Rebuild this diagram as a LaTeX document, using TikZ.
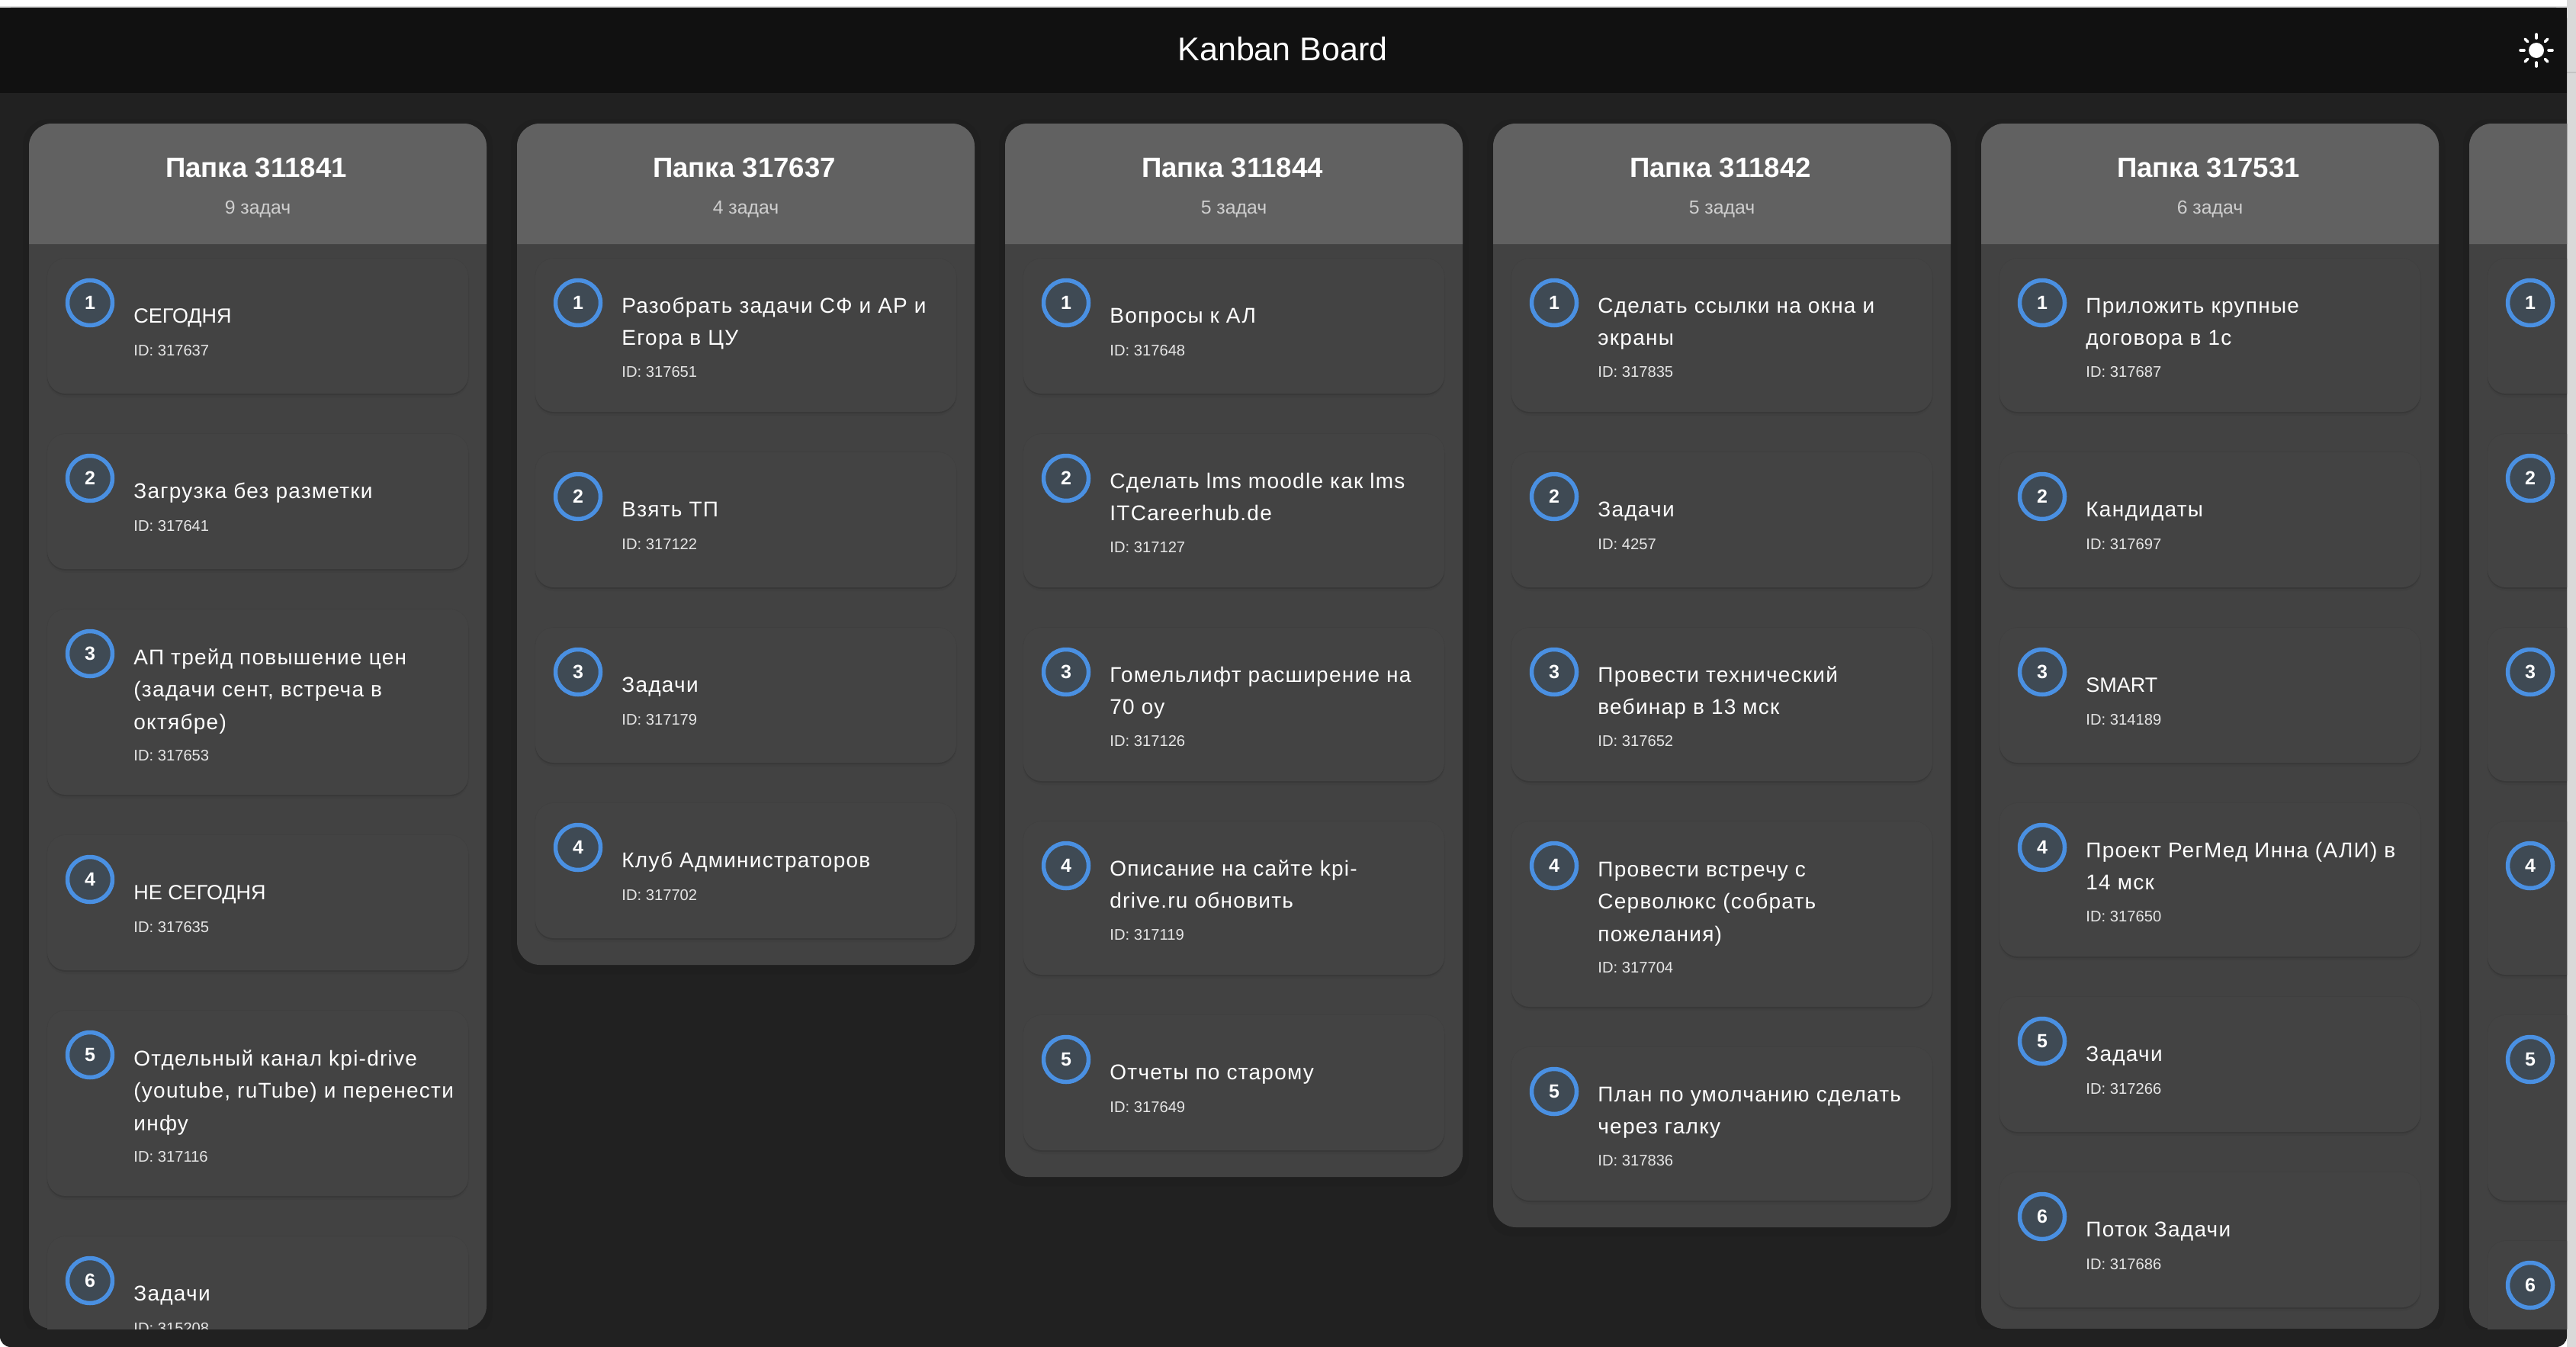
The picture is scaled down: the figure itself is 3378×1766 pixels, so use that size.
\documentclass[tikz,border=0pt]{standalone}
\usepackage{fontspec}
\setmainfont{Liberation Sans}
\definecolor{barbg}{HTML}{111111}
\definecolor{pagebg}{HTML}{212121}
\definecolor{colbody}{HTML}{424242}
\definecolor{colhead}{HTML}{616161}
\definecolor{cardbg}{HTML}{434343}
\definecolor{numfill}{HTML}{3F4A54}
\definecolor{numring}{HTML}{4A90E2}
\definecolor{subtxt}{HTML}{CFCFCF}
\definecolor{idtxt}{HTML}{E6E6E6}
\definecolor{strip}{HTML}{D9D9D9}
\definecolor{stripline}{HTML}{C4C4C4}
\newcommand{\plaincaps}[1]{{\fontsize{13.5}{21.25}\selectfont\addfontfeature{LetterSpace=0}#1}}
\tikzset{
  apptitle/.style={inner sep=0pt,anchor=base,text=white,font=\fontsize{21.5}{26}\selectfont},
  coltitle/.style={inner sep=0pt,anchor=base,text=white,font=\fontsize{18.3}{22}\selectfont\bfseries},
  colsub/.style={inner sep=0pt,anchor=base,text=subtxt,font=\fontsize{12.4}{16}\selectfont},
  tasktext/.style={inner sep=0pt,anchor=north west,align=left,text=white,font=\fontsize{14}{21.25}\selectfont\addfontfeature{LetterSpace=4.5}},
  taskid/.style={inner sep=0pt,anchor=base west,text=idtxt,font=\fontsize{10.1}{13}\selectfont},
  numcirc/.style={circle,draw=numring,fill=numfill,line width=2.75pt,minimum size=29.5pt,inner sep=0pt,text=white,font=\fontsize{12.5}{14}\selectfont\bfseries},
  sunray/.style={draw=white,line width=1.8pt,line cap=round},
}
% #1 name, #2 column x, #3 card top, #4 number, #5 height
\newcommand{\taskshell}[5]{%
  \fill[black,opacity=.03,rounded corners=13pt] (#2+23,#3-1) rectangle (#2+577,#3+#5+5);
  \fill[black,opacity=.10,rounded corners=12pt] (#2+24,#3+1) rectangle (#2+576,#3+#5+2);
  \fill[cardbg,rounded corners=12pt] (#2+24,#3) rectangle (#2+576,#3+#5);
  \node[numcirc] (n#1) at (#2+80,#3+58) {#4};
}
% #1 name, #2 column x, #3 card top, #4 number, #5 line count, #6 text, #7 id
\newcommand{\taskcard}[7]{%
  \ifcase#5\or\def\cardH{177}\def\cardB{84.5}\def\cardI{127}%
  \or\def\cardH{201}\def\cardB{71}\def\cardI{155}%
  \or\def\cardH{243}\def\cardB{72}\def\cardI{198}\fi
  \taskshell{#1}{#2}{#3}{#4}{\cardH}
  \node[tasktext] (t#1) at (#2+137,#3+\cardB-29.75) {\strut #6};
  \node[taskid] (i#1) at (#2+137,#3+\cardI) {ID: #7};
}
% #1 name, #2 x, #3 bottom, #4 title, #5 subtitle
\newcommand{\column}[5]{%
  \fill[black,opacity=.05,rounded corners=17pt] (#2-8,156) rectangle (#2+608,#3+12);
  \fill[colbody,rounded corners=15pt] (#2,162) rectangle (#2+600,#3);
  \fill[colhead] (#2,320) [rounded corners=15pt] -- (#2,162) -- (#2+600,162) [sharp corners] -- (#2+600,320) -- cycle;
  \node[coltitle] (h#1) at (#2+298,232) {#4};
  \node[colsub] (s#1) at (#2+300,280) {#5};
}
\begin{document}
\begin{tikzpicture}[x=0.5pt,y=-0.5pt]
\useasboundingbox (0,0) rectangle (3378,1766);
\fill[white] (0,0) rectangle (3378,1766);
\fill[strip] (3366,0) rectangle (3378,1766);
\fill[stripline] (3366,94) rectangle (3378,96);
\fill[black!12] (0,8) rectangle (3366,10);
\fill[pagebg,rounded corners=7pt] (0,10) rectangle (3366,1766);
\fill[barbg] (0,10) rectangle (3366,122);
\node[apptitle] (apptitle) at (1682,80) {Kanban Board};
% sun
\fill[white] (3326,66) circle (10);
\foreach \a in {0,45,...,315}{
  \draw[sunray] (3326,66) ++(\a:16) -- ++(\a:5);
}
\begin{scope}
\clip (0,0) rectangle (3366,1742);
\column{a}{38}{1742}{Папка 311841}{9 задач}
\column{b}{678}{1265}{Папка 317637}{4 задач}
\column{c}{1318}{1543}{Папка 311844}{5 задач}
\column{d}{1958}{1609}{Папка 311842}{5 задач}
\column{e}{2598}{1742}{Папка 317531}{6 задач}
\column{f}{3238}{1742}{}{}
% column 1
\taskcard{a1}{38}{339}{1}{1}{\plaincaps{СЕГОДНЯ}}{317637}
\taskcard{a2}{38}{569}{2}{1}{Загрузка без разметки}{317641}
\taskcard{a3}{38}{799}{3}{3}{АП трейд повышение цен\\(задачи сент, встреча в\\октябре)}{317653}
\taskcard{a4}{38}{1095}{4}{1}{\plaincaps{НЕ СЕГОДНЯ}}{317635}
\taskcard{a5}{38}{1325}{5}{3}{Отдельный канал kpi-drive\\(youtube, ruTube) и перенести\\инфу}{317116}
\taskcard{a6}{38}{1621}{6}{1}{Задачи}{315208}
% column 2
\taskcard{b1}{678}{339}{1}{2}{Разобрать задачи СФ и АР и\\Егора в ЦУ}{317651}
\taskcard{b2}{678}{593}{2}{1}{Взять ТП}{317122}
\taskcard{b3}{678}{823}{3}{1}{Задачи}{317179}
\taskcard{b4}{678}{1053}{4}{1}{Клуб Администраторов}{317702}
% column 3
\taskcard{c1}{1318}{339}{1}{1}{Вопросы к АЛ}{317648}
\taskcard{c2}{1318}{569}{2}{2}{Сделать lms moodle как lms\\ITCareerhub.de}{317127}
\taskcard{c3}{1318}{823}{3}{2}{Гомельлифт расширение на\\70 оу}{317126}
\taskcard{c4}{1318}{1077}{4}{2}{Описание на сайте kpi-\\drive.ru обновить}{317119}
\taskcard{c5}{1318}{1331}{5}{1}{Отчеты по старому}{317649}
% column 4
\taskcard{d1}{1958}{339}{1}{2}{Сделать ссылки на окна и\\экраны}{317835}
\taskcard{d2}{1958}{593}{2}{1}{Задачи}{4257}
\taskcard{d3}{1958}{823}{3}{2}{Провести технический\\вебинар в 13 мск}{317652}
\taskcard{d4}{1958}{1077}{4}{3}{Провести встречу с\\Серволюкс (собрать\\пожелания)}{317704}
\taskcard{d5}{1958}{1373}{5}{2}{План по умолчанию сделать\\через галку}{317836}
% column 5
\taskcard{e1}{2598}{339}{1}{2}{Приложить крупные\\договора в 1с}{317687}
\taskcard{e2}{2598}{593}{2}{1}{Кандидаты}{317697}
\taskcard{e3}{2598}{823}{3}{1}{\plaincaps{SMART}}{314189}
\taskcard{e4}{2598}{1053}{4}{2}{Проект РегМед Инна (АЛИ) в\\14 мск}{317650}
\taskcard{e5}{2598}{1307}{5}{1}{Задачи}{317266}
\taskcard{e6}{2598}{1537}{6}{1}{Поток Задачи}{317686}
% column 6, cut off by the window edge
\taskshell{f1}{3238}{339}{1}{177}
\taskshell{f2}{3238}{569}{2}{201}
\taskshell{f3}{3238}{823}{3}{201}
\taskshell{f4}{3238}{1077}{4}{201}
\taskshell{f5}{3238}{1331}{5}{243}
\taskshell{f6}{3238}{1627}{6}{177}
\end{scope}
\end{tikzpicture}
\end{document}
